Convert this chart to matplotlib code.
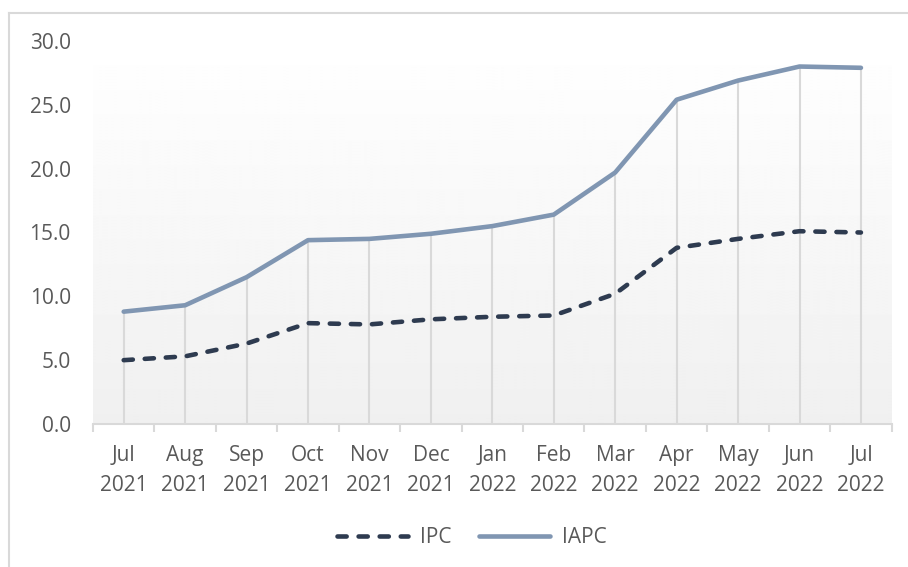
import matplotlib

matplotlib.use("Agg")

import matplotlib.pyplot as plt
import numpy as np
from matplotlib.lines import Line2D

months = ["Jul", "Aug", "Sep", "Oct", "Nov", "Dec", "Jan", "Feb", "Mar", "Apr", "May", "Jun", "Jul"]
years = ["2021"] * 6 + ["2022"] * 7
ipc = [5.0, 5.3, 6.3, 7.9, 7.8, 8.2, 8.4, 8.5, 10.2, 13.8, 14.5, 15.1, 15.0]
iapc = [8.8, 9.3, 11.5, 14.4, 14.5, 14.9, 15.5, 16.4, 19.7, 25.4, 26.9, 28.0, 27.9]
y_ticks = [0, 5, 10, 15, 20, 25, 30]

plt.rcParams["font.family"] = ["Open Sans", "DejaVu Sans"]
text_color = "#595959"
grid_color = "#D9D9D9"

fig = plt.figure(figsize=(9.08, 5.67), dpi=100)
ax = fig.add_axes([0.1024, 0.2522, 0.8796, 0.6755])

x = np.arange(len(months))
ax.set_xlim(-0.5, len(months) - 0.5)
ax.set_ylim(0, 30)

# soft vertical gradient behind the plot
grad = np.linspace(0.94, 1.0, 256).reshape(-1, 1)
ax.imshow(grad, extent=[-0.5, len(months) - 0.5, 0, 30], origin="lower",
          cmap="gray", vmin=0, vmax=1, aspect="auto", zorder=0)

# drop lines from the top series to the axis
tops = np.maximum(ipc, iapc)
ax.vlines(x, 0, tops, color=grid_color, linewidth=1.5, zorder=1)

ax.plot(x, ipc, color="#2E3B50", linewidth=3.3, linestyle=(0, (2.0, 2.6)),
        dash_capstyle="round", solid_capstyle="round", label="IPC", zorder=3)
ax.plot(x, iapc, color="#8096B2", linewidth=3.3, solid_capstyle="round",
        solid_joinstyle="round", label="IAPC", zorder=3)

for side in ["top", "right", "left"]:
    ax.spines[side].set_visible(False)
ax.spines["bottom"].set_color(grid_color)
ax.spines["bottom"].set_linewidth(1.5)

ax.set_yticks(y_ticks)
ax.set_yticklabels([f"{v:.1f}" for v in y_ticks])
ax.tick_params(axis="y", length=0, pad=16, labelsize=15, labelcolor=text_color)

ax.set_xticks(x)
ax.set_xticklabels([f"{m}\n{y}" for m, y in zip(months, years)], linespacing=1.6)
ax.set_xticks(np.arange(-0.5, len(months)), minor=True)
ax.tick_params(axis="x", which="major", length=0, pad=15, labelsize=15, labelcolor=text_color)
ax.tick_params(axis="x", which="minor", length=6, width=1.5, color=grid_color, direction="out")

leg = fig.legend(loc="center", bbox_to_anchor=(0.520, 0.052), ncol=2, frameon=False,
                 fontsize=15, handlelength=3.4, columnspacing=1.3, handletextpad=0.6)
for t in leg.get_texts():
    t.set_color(text_color)

# chart frame (only top and left edges are visible in the crop)
fig.add_artist(Line2D([9 / 908, 9 / 908], [0, 1 - 13 / 567], transform=fig.transFigure,
                      color=grid_color, linewidth=1.5))
fig.add_artist(Line2D([9 / 908, 1], [1 - 13 / 567, 1 - 13 / 567], transform=fig.transFigure,
                      color=grid_color, linewidth=1.5))

fig.savefig("out.png", dpi=100)
plt.close(fig)
